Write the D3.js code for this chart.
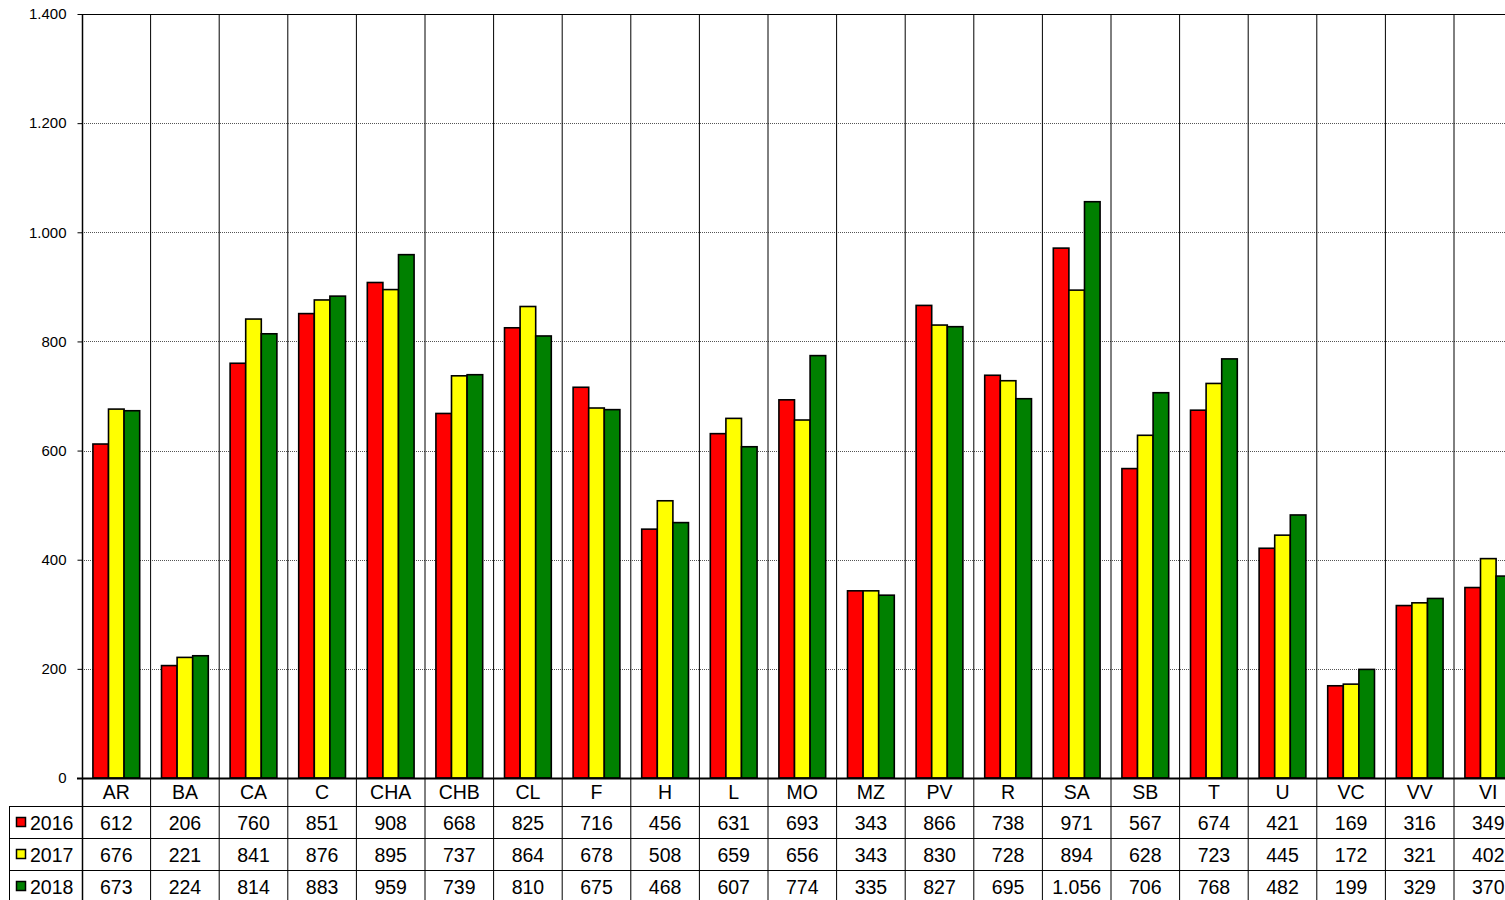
<!DOCTYPE html>
<html><head><meta charset="utf-8">
<script src="https://cdn.jsdelivr.net/npm/d3@7"></script>
<style>
html,body{margin:0;padding:0;background:#fff;overflow:hidden}
svg{display:block;font-family:"Liberation Sans",Arial,sans-serif}
</style></head>
<body><svg id="c" width="1505" height="900"></svg>
<script>
const categories = ["AR","BA","CA","C","CHA","CHB","CL","F","H","L","MO","MZ","PV","R","SA","SB","T","U","VC","VV","VI"];
const seriesNames = ["2016","2017","2018"];
const seriesColors = ["#ff0000","#ffff00","#008000"];
const values2016 = [612,206,760,851,908,668,825,716,456,631,693,343,866,738,971,567,674,421,169,316,349];
const values2017 = [676,221,841,876,895,737,864,678,508,659,656,343,830,728,894,628,723,445,172,321,402];
const values2018 = [673,224,814,883,959,739,810,675,468,607,774,335,827,695,1056,706,768,482,199,329,370];
const yTicks = [0,200,400,600,800,1000,1200,1400];

(function(){
const series = [values2016, values2017, values2018];
const svg = d3.select("#c");
const mLeft = 82, mTop = 14, mBottom = 778, colW = 68.6;
const mRight = mLeft + colW*categories.length;
const fmt = v => d3.formatLocale({decimal:",",thousands:".",grouping:[3],currency:["",""]}).format(",d")(v);

const x = d3.scaleBand().domain(categories).range([mLeft, mRight]).padding(0);
const xs = d3.scaleBand().domain(seriesNames).range([0, x.bandwidth()]).paddingInner(0).paddingOuter(0.7);
const y = d3.scaleLinear().domain([0,1400]).range([mBottom, mTop]);

// horizontal grid (dotted)
svg.append("g").selectAll("line").data(yTicks.filter(t=>t>0 && t<1400)).join("line")
  .attr("x1", mLeft).attr("x2", mRight).attr("y1", d=>Math.round(y(d))+0.5).attr("y2", d=>Math.round(y(d))+0.5)
  .attr("stroke","#555").attr("stroke-width",1).attr("stroke-dasharray","1,1");
// top border
svg.append("line").attr("x1",mLeft).attr("x2",mRight).attr("y1",Math.round(y(1400))+0.5).attr("y2",Math.round(y(1400))+0.5).attr("stroke","#000");

// vertical category separators (plot + table)
svg.append("g").selectAll("line").data(categories.slice(1)).join("line")
  .attr("x1", d=>x(d)).attr("x2", d=>x(d)).attr("y1", mTop).attr("y2", 900)
  .attr("stroke","#000").attr("stroke-width",1);

// bars
const g = svg.append("g");
series.forEach((vals, si) => {
  g.selectAll(null).data(vals).join("rect")
    .attr("x", (d,i)=>x(categories[i]) + xs(seriesNames[si]))
    .attr("width", xs.bandwidth())
    .attr("y", d=>y(d)).attr("height", d=>mBottom - y(d))
    .attr("fill", seriesColors[si]).attr("stroke","#000").attr("stroke-width",1.6);
});

// y axis
const yAxis = d3.axisLeft(y).tickValues(yTicks).tickSize(5).tickFormat(fmt);
const ya = svg.append("g").attr("transform",`translate(${mLeft+0.5},0)`).call(yAxis);
ya.select(".domain").attr("d", `M0,${mTop}V900`).attr("stroke","#000").attr("stroke-width",1.5);
ya.selectAll(".tick line").attr("stroke","#000");
ya.selectAll(".tick text").attr("x",-16).attr("font-size",15).attr("fill","#000").attr("font-family","Liberation Sans, Arial, sans-serif");

// baseline
svg.append("line").attr("x1",mLeft-5).attr("x2",mRight).attr("y1",mBottom+0.5).attr("y2",mBottom+0.5).attr("stroke","#000").attr("stroke-width",2);

// table
const rowTops = [806, 838, 870];
rowTops.forEach(r => svg.append("line").attr("x1",9).attr("x2",mRight).attr("y1",r+0.5).attr("y2",r+0.5).attr("stroke","#000"));
svg.append("line").attr("x1",9.5).attr("x2",9.5).attr("y1",806).attr("y2",900).attr("stroke","#000");

// category labels
svg.append("g").selectAll("text").data(categories).join("text")
  .attr("x", d=>x(d)+x.bandwidth()/2).attr("y", 799)
  .attr("text-anchor","middle").attr("font-size",19.5).text(d=>d);

// values
series.forEach((vals, si) => {
  svg.append("g").selectAll("text").data(vals).join("text")
    .attr("x", (d,i)=>x(categories[i])+x.bandwidth()/2).attr("y", rowTops[si]+23.5)
    .attr("text-anchor","middle").attr("font-size",19.5).text(d=>fmt(d));
  svg.append("rect").attr("x",16.5).attr("y",rowTops[si]+11.5).attr("width",9).attr("height",9)
    .attr("fill",seriesColors[si]).attr("stroke","#000").attr("stroke-width",1.5);
  svg.append("text").attr("x",30).attr("y",rowTops[si]+23.5).attr("font-size",19.5).text(seriesNames[si]);
});
})();
</script></body></html>
